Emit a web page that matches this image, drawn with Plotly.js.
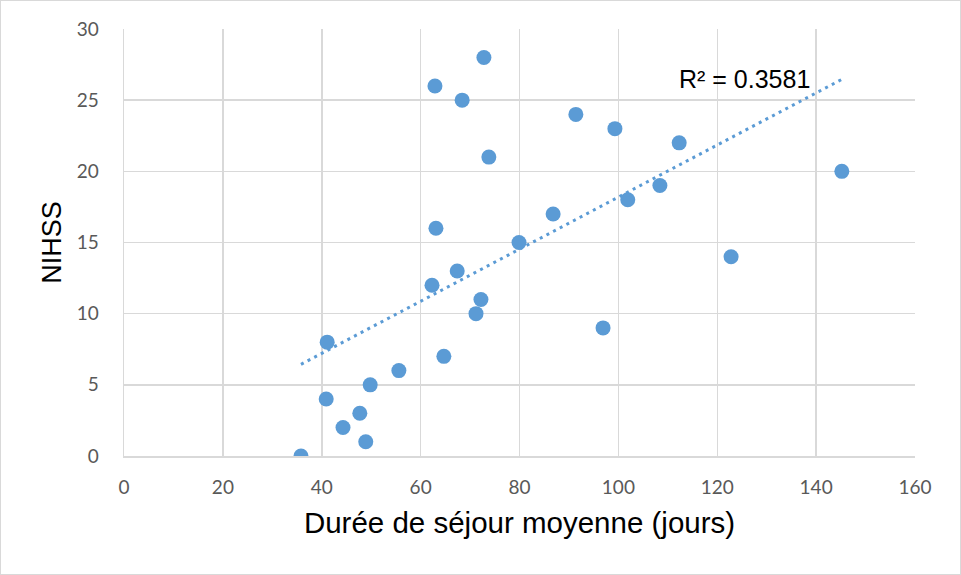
<!DOCTYPE html>
<html>
<head>
<meta charset="utf-8">
<script src="https://cdn.plot.ly/plotly-3.0.1.min.js"></script>
<style>
html,body{margin:0;padding:0;background:#fff;}
#chart{width:961px;height:575px;box-sizing:border-box;border:1px solid #d9d9d9;}
</style>
</head>
<body>
<div id="chart"></div>
<script>
const dureeJours = [35.8, 40.9, 41.1, 44.3, 47.7, 48.9, 49.8, 55.6, 62.3, 62.9, 63.1, 64.7, 67.4, 68.4, 71.2, 72.2, 72.8, 73.8, 79.9, 86.8, 91.4, 96.9, 99.3, 101.9, 108.4, 112.3, 122.8, 145.2];
const nihss      = [0, 4, 8, 2, 3, 1, 5, 6, 12, 26, 16, 7, 13, 25, 10, 11, 28, 21, 15, 17, 24, 9, 23, 18, 19, 22, 14, 20];
const xTicks = [0, 20, 40, 60, 80, 100, 120, 140, 160];
const yTicks = [0, 5, 10, 15, 20, 25, 30];
const r2Label = "R² = 0.3581";

// least-squares trend line from the data
const n = dureeJours.length;
const mx = dureeJours.reduce((a,b)=>a+b,0)/n;
const my = nihss.reduce((a,b)=>a+b,0)/n;
let sxy=0, sxx=0;
for (let i=0;i<n;i++){ sxy += (dureeJours[i]-mx)*(nihss[i]-my); sxx += (dureeJours[i]-mx)**2; }
const slope = sxy/sxx, icpt = my - slope*mx;
const xmin = Math.min(...dureeJours), xmax = Math.max(...dureeJours);
const trendX = [xmin, xmax];
const trendY = trendX.map(x => icpt + slope*x);

const traces = [
  { x: trendX, y: trendY, mode: 'lines', type: 'scatter',
    line: {color: '#5B9BD5', width: 3, dash: '3px,4.5px'}, hoverinfo: 'skip', showlegend: false },
  { x: dureeJours, y: nihss, mode: 'markers', type: 'scatter',
    marker: {color: '#5B9BD5', size: 15}, showlegend: false }
];

const tickFont = {family: 'Lato, "Open Sans", sans-serif', size: 19, color: '#595959'};
const layout = {
  width: 959, height: 573,
  margin: {l: 123, r: 45, t: 28, b: 118},
  paper_bgcolor: '#fff', plot_bgcolor: '#fff',
  showlegend: false,
  xaxis: {
    range: [0, 160], tickvals: xTicks, ticktext: xTicks.map(String),
    showgrid: true, gridcolor: '#d9d9d9', gridwidth: 1.5,
    zeroline: false, showline: true, linecolor: '#d9d9d9', linewidth: 1.5,
    ticks: '', tickfont: tickFont, ticklabelstandoff: 14,
    title: {text: 'Durée de séjour moyenne (jours)', font: {family: '"Liberation Sans", Arial, sans-serif', size: 29.5, color: '#000'}, standoff: 15}
  },
  yaxis: {
    range: [0, 30], tickvals: yTicks, ticktext: yTicks.map(String),
    showgrid: true, gridcolor: '#d9d9d9', gridwidth: 1.5,
    zeroline: false, showline: true, linecolor: '#d9d9d9', linewidth: 1.5,
    ticks: '', tickfont: tickFont, ticklabelstandoff: 20,
    title: {text: 'NIHSS', font: {family: '"Liberation Sans", Arial, sans-serif', size: 27, color: '#000'}, standoff: 7}
  },
  annotations: [{
    x: 125.6, y: 26.5, xref: 'x', yref: 'y', text: r2Label, showarrow: false,
    xanchor: 'center', yanchor: 'middle',
    font: {family: '"Liberation Sans", Arial, sans-serif', size: 25, color: '#000'}
  }]
};
Plotly.newPlot('chart', traces, layout, {displayModeBar: false, staticPlot: true});
</script>
</body>
</html>
